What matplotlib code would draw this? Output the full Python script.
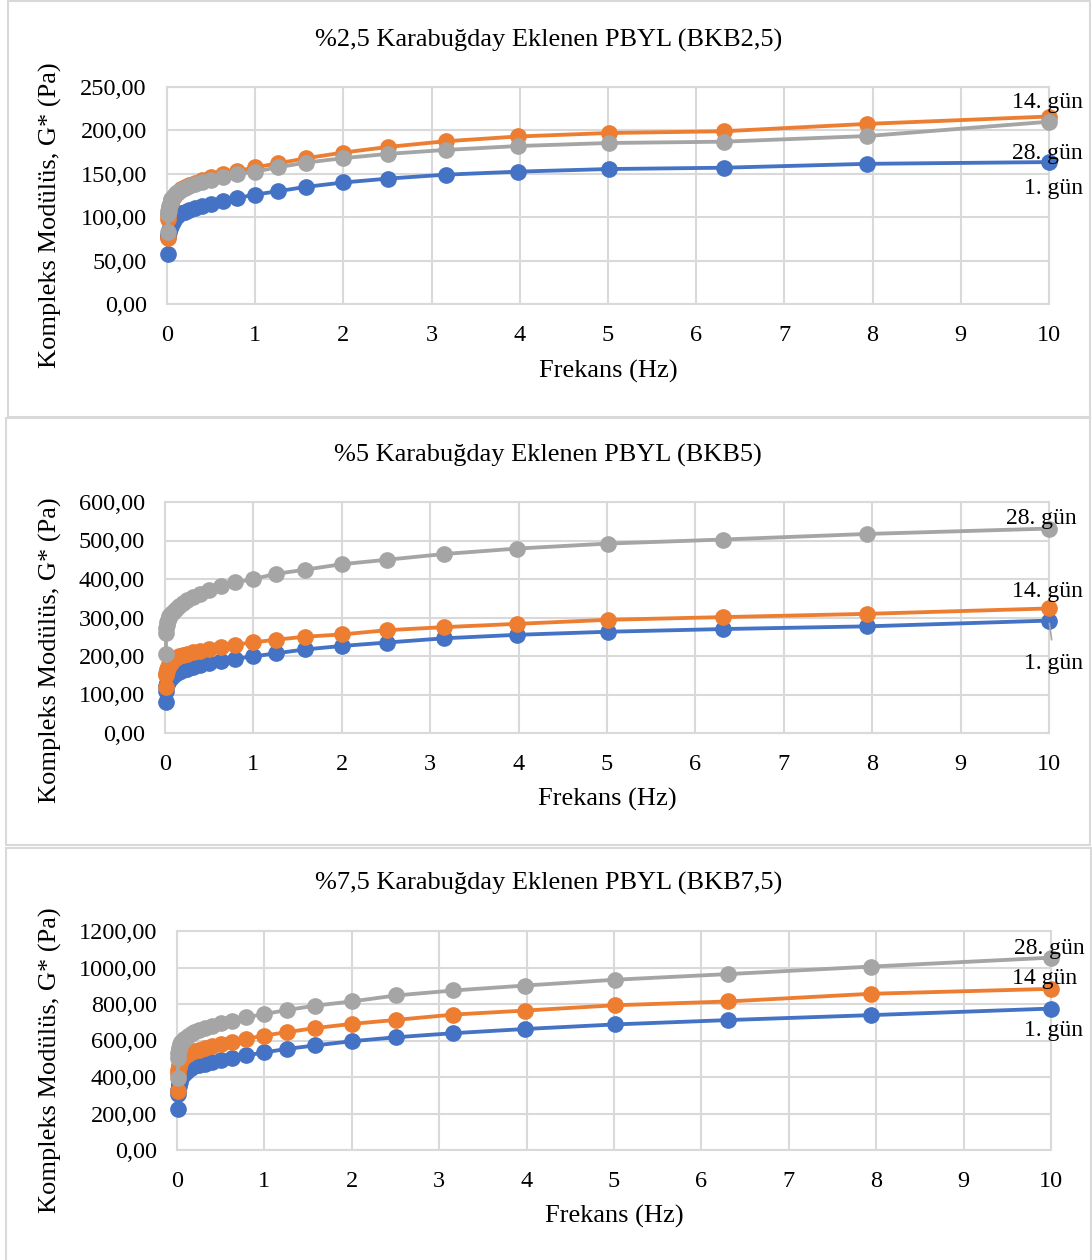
import matplotlib
matplotlib.use("Agg")
from matplotlib import pyplot as plt
from matplotlib.patches import Rectangle

plt.rcParams["font.family"] = ["Liberation Serif", "DejaVu Serif"]

# %% data
freq = [0.01, 0.0126, 0.0158, 0.02, 0.0251, 0.0316, 0.0398, 0.0501, 0.0631, 0.0794,
        0.1, 0.126, 0.158, 0.2, 0.251, 0.316, 0.398, 0.501, 0.631, 0.794,
        1.0, 1.26, 1.58, 2.0, 2.51, 3.16, 3.98, 5.01, 6.31, 7.94, 10.0]

bkb25_day1 = [58, 77, 80, 82.5, 85, 87.5, 90, 92.5, 95, 97.5,
              100, 102.5, 104.5, 106.5, 108.5, 110.5, 113, 115.5, 118.5, 122,
              126, 130, 135, 140, 144.5, 149, 152.5, 155.5, 157, 161.5, 163.5]
bkb25_day14 = [76, 98, 103, 107, 110.5, 113.5, 116.5, 119.5, 122, 124.5,
               127, 129.5, 132, 134.5, 137, 139.5, 142.5, 146, 150, 153,
               157.5, 162, 168, 174.5, 181, 187.5, 193, 197, 199, 207.5, 216]
bkb25_day28 = [83, 104, 107.5, 110.5, 113, 115.5, 118, 120.5, 123, 125,
               127.5, 129.5, 131.5, 133.5, 135.5, 138, 140.5, 143, 146, 149.5,
               152.5, 157.5, 163, 168, 173, 177.5, 182, 185.5, 187, 193.5, 210]

bkb5_day1 = [80, 110, 123, 126.5, 130, 133.5, 137, 140.5, 144, 147.5,
             151, 155, 159, 163, 167, 171, 176, 181, 187, 193,
             199, 207, 217, 226, 235, 246, 255, 263, 270, 277, 292]
bkb5_day14 = [119, 150, 157, 162, 167, 171, 175, 179, 183, 187,
              191, 195, 199, 202.5, 206, 209.5, 214, 218.5, 223.5, 229.5,
              235.5, 242.5, 250, 256, 267, 275, 283.5, 294, 301, 309.5, 323.5]
bkb5_day28 = [204, 260, 272, 281, 288, 294, 299, 304, 308, 312,
              316, 323, 330.5, 337.5, 344.5, 353, 362, 370.5, 381, 391,
              400, 413.5, 424, 438.5, 450, 465, 479, 492, 502.5, 517, 531]

bkb75_day1 = [222, 305, 330, 348, 362, 375, 387, 398, 409, 420,
              430, 440, 449, 458, 466, 473, 483, 494, 505, 518,
              535, 554, 573, 596, 618, 640, 663, 688, 712, 739, 775]
bkb75_day14 = [324, 415, 440, 456, 468, 479, 489, 498, 506, 513,
               520, 528, 536, 543, 550, 559, 570, 581, 594, 609,
               627, 646, 668, 691, 713, 742, 764, 793, 814, 856, 883]
bkb75_day28 = [396, 505, 530, 548, 561, 572, 582, 591, 600, 608,
               616, 626, 636, 645, 655, 668, 681, 694, 709, 727,
               745, 767, 791, 814, 847, 874, 901, 933, 964, 1005, 1054]

titles = ["%2,5 Karabuğday Eklenen PBYL (BKB2,5)",
          "%5 Karabuğday Eklenen PBYL (BKB5)",
          "%7,5 Karabuğday Eklenen PBYL (BKB7,5)"]
yTicks = [[0, 50, 100, 150, 200, 250],
          [0, 100, 200, 300, 400, 500, 600],
          [0, 200, 400, 600, 800, 1000, 1200]]
yTickLabels = [["0,00", "50,00", "100,00", "150,00", "200,00", "250,00"],
               ["0,00", "100,00", "200,00", "300,00", "400,00", "500,00", "600,00"],
               ["0,00", "200,00", "400,00", "600,00", "800,00", "1000,00", "1200,00"]]
seriesLabels = [["1. gün", "14. gün", "28. gün"],
                ["1. gün", "14. gün", "28. gün"],
                ["1. gün", "14 gün", "28. gün"]]
panelData = [[bkb25_day1, bkb25_day14, bkb25_day28],
             [bkb5_day1, bkb5_day14, bkb5_day28],
             [bkb75_day1, bkb75_day14, bkb75_day28]]

colors = ["#4472C4", "#ED7D31", "#A5A5A5"]
gridColor = "#D9D9D9"

W, H = 1092, 1260
fig = plt.figure(figsize=(W / 100, H / 100), dpi=100)


def px(x0, y0, x1, y1):
    # pixel box (top-left origin) -> figure fraction rect
    return [x0 / W, 1 - y1 / H, (x1 - x0) / W, (y1 - y0) / H]


# plot area boxes, outer chart boxes, title/label rows (pixels)
plotBoxes = [(167, 87, 1049, 304), (165, 502, 1049, 733), (177, 931, 1051, 1150)]
chartBoxes = [(8, 1, 1090, 417), (6, 418, 1090, 845), (6, 848, 1091, 1262)]
titleY = [40, 455, 883]
xlabelY = [371, 799, 1216]
ylabelY = [215, 650, 1060]
# label offsets (pixels) from the last point of each series: 1. gün, 14, 28
labelOffsets = [[(34, -26), (34, 14), (34, -32)],
                [(34, -43), (34, 17), (28, 10)],
                [(32, -22), (26, 10), (34, 9)]]

for i in range(3):
    cx0, cy0, cx1, cy1 = chartBoxes[i]
    fig.patches.append(Rectangle((cx0 / W, 1 - cy1 / H), (cx1 - cx0) / W, (cy1 - cy0) / H,
                                 transform=fig.transFigure, fill=False,
                                 edgecolor=gridColor, linewidth=1.5, zorder=0))
    fig.text((cx0 + cx1) / 2 / W, 1 - titleY[i] / H, titles[i], ha="center", va="center",
             fontsize=19)
    x0, y0, x1, y1 = plotBoxes[i]
    fig.text((x0 + x1) / 2 / W, 1 - xlabelY[i] / H, "Frekans (Hz)", ha="center",
             va="center", fontsize=19)
    fig.text(50 / W, 1 - ylabelY[i] / H, "Kompleks Modülüs, G* (Pa)", ha="center",
             va="center", rotation=90, fontsize=19)

    ax = fig.add_axes(px(*plotBoxes[i]))
    for k in range(3):
        ax.plot(freq, panelData[i][k], color=colors[k], linewidth=2.75, marker="o",
                markersize=11, clip_on=False, zorder=3 + k)
    ax.set_xlim(0, 10)
    ax.set_ylim(yTicks[i][0], yTicks[i][-1])
    ax.set_xticks(range(0, 11))
    ax.set_yticks(yTicks[i])
    ax.set_yticklabels(yTickLabels[i])
    ax.tick_params(length=0, labelsize=17.5)
    ax.tick_params(axis="x", pad=15)
    ax.tick_params(axis="y", pad=14.5)
    ax.grid(True, color=gridColor, linewidth=1.5)
    ax.set_axisbelow(True)
    for s in ax.spines.values():
        s.set_color(gridColor)
        s.set_linewidth(1.5)

    for k in range(3):
        dx, dy = labelOffsets[i][k]
        ax.annotate(seriesLabels[i][k], xy=(freq[-1], panelData[i][k][-1]),
                    xytext=(dx, dy), textcoords="offset pixels", ha="right",
                    va="center", fontsize=17, zorder=10, annotation_clip=False)
    if i == 1:
        # short leader line for the 1. gün label
        ax.annotate("", xy=(freq[-1], panelData[i][0][-1]), xytext=(3, -22),
                    textcoords="offset pixels",
                    arrowprops=dict(arrowstyle="-", color="#A5A5A5", lw=1.2),
                    annotation_clip=False)

fig.savefig("out.png", dpi=100)
